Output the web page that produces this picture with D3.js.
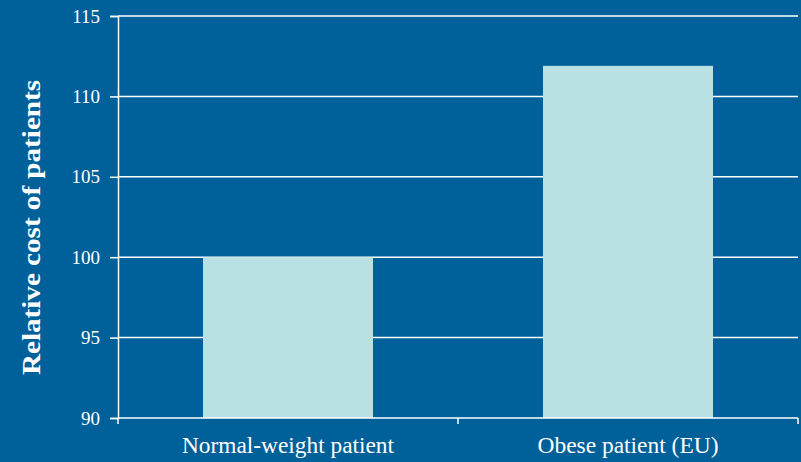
<!DOCTYPE html>
<html><head><meta charset="utf-8">
<script src="https://cdn.jsdelivr.net/npm/d3@7"></script>
<style>
html,body{margin:0;padding:0;background:#00609a;}
svg{display:block;}
</style></head>
<body>
<svg id="chart" width="801" height="462"></svg>
<script>
const categories = ["Normal-weight patient", "Obese patient (EU)"];
const values = [100, 111.9];
const yTicks = [90, 95, 100, 105, 110, 115];
const yTitle = "Relative cost of patients";

const W = 801, H = 462;
const m = {left: 118, right: 3, top: 16, bottom: 44};
const svg = d3.select("#chart");
svg.append("rect").attr("width", W).attr("height", H).attr("fill", "#00609a");

const x = d3.scaleBand().domain(categories).range([m.left, W - m.right]).paddingInner(0.5).paddingOuter(0.25);
const y = d3.scaleLinear().domain([90, 115]).range([H - m.bottom, m.top]);

const font = "'Liberation Serif', 'DejaVu Serif', serif";

// gridlines
svg.append("g").selectAll("line").data(yTicks.slice(1)).join("line")
  .attr("x1", m.left).attr("x2", W - m.right)
  .attr("y1", d => y(d)).attr("y2", d => y(d))
  .attr("stroke", "#ffffff").attr("stroke-width", 1.5);

// bars
svg.append("g").selectAll("rect").data(categories).join("rect")
  .attr("x", d => x(d)).attr("width", x.bandwidth())
  .attr("y", (d, i) => y(values[i]))
  .attr("height", (d, i) => y(90) - y(values[i]))
  .attr("fill", "#b9e0e3");

// y axis
const yAxis = svg.append("g").attr("transform", `translate(${m.left},0)`)
  .call(d3.axisLeft(y).tickValues(yTicks).tickSize(8).tickPadding(10));
yAxis.select(".domain").attr("stroke", "#fff").attr("stroke-width", 1.5);
yAxis.selectAll(".tick line").attr("stroke", "#fff").attr("stroke-width", 1.5);
yAxis.selectAll(".tick text").attr("fill", "#fff").attr("font-family", font).attr("font-size", 19);

// x axis
const xEdges = d3.scaleLinear().domain([0, categories.length]).range([m.left, W - m.right]);
const xAxisG = svg.append("g").attr("transform", `translate(0,${y(90)})`);
xAxisG.append("line").attr("x1", m.left).attr("x2", W - m.right).attr("stroke", "#fff").attr("stroke-width", 1.5);
xAxisG.selectAll("line.t").data(d3.range(categories.length + 1)).join("line").attr("class", "t")
  .attr("x1", d => xEdges(d)).attr("x2", d => xEdges(d)).attr("y1", 0).attr("y2", 6)
  .attr("stroke", "#fff").attr("stroke-width", 1.5);
const labelWidths = [212, 181];
xAxisG.selectAll("text").data(categories).join("text")
  .attr("x", d => x(d) + x.bandwidth() / 2 - (labelWidths[categories.indexOf(d)]) / 2).attr("y", 35)
  .attr("fill", "#fff")
  .attr("font-family", font).attr("font-size", 24)
  .attr("textLength", (d, i) => labelWidths[i]).attr("lengthAdjust", "spacingAndGlyphs")
  .text(d => d);

// y title
svg.append("text")
  .attr("transform", `translate(40,375) rotate(-90)`)
  .attr("fill", "#fff")
  .attr("font-family", font).attr("font-size", 25).attr("font-weight", "bold")
  .attr("textLength", 295).attr("lengthAdjust", "spacingAndGlyphs")
  .text(yTitle);
</script>
</body></html>
